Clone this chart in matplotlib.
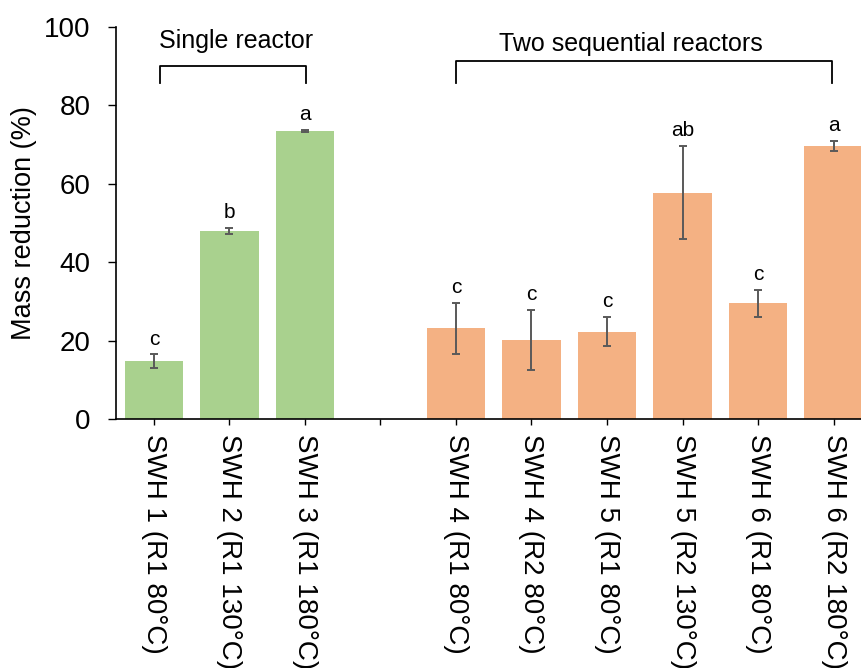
import numpy as np
import matplotlib
matplotlib.use("Agg")
import matplotlib.pyplot as plt

plt.rcParams['font.family'] = ['Liberation Sans', 'DejaVu Sans']

# data
labels = ['SWH 1 (R1 80°C)', 'SWH 2 (R1 130°C)', 'SWH 3 (R1 180°C)', '',
          'SWH 4 (R1 80°C)', 'SWH 4 (R2 80°C)', 'SWH 5 (R1 80°C)',
          'SWH 5 (R2 130°C)', 'SWH 6 (R1 80°C)', 'SWH 6 (R2 180°C)']
single_vals = [14.7, 48.0, 73.5]
single_err = [1.8, 0.7, 0.3]
single_letters = ['c', 'b', 'a']
seq_vals = [23.1, 20.2, 22.3, 57.7, 29.5, 69.7]
seq_err = [6.5, 7.7, 3.8, 11.9, 3.5, 1.3]
seq_letters = ['c', 'c', 'c', 'ab', 'c', 'a']

green = '#A9D18E'
orange = '#F4B183'
err_col = '#595959'

fig = plt.figure(figsize=(8.61, 6.68), dpi=100)
ax = fig.add_axes([116/861, (668-419)/668, 745/861, 392/668])

x_single = np.arange(3)
x_seq = np.arange(4, 10)
bw = 0.78
ekw = dict(ecolor=err_col, elinewidth=1.4, capsize=3, capthick=1.4)
ax.bar(x_single, single_vals, bw, color=green, yerr=single_err, error_kw=ekw)
ax.bar(x_seq, seq_vals, bw, color=orange, yerr=seq_err, error_kw=ekw)

# significance letters
for xs, vs, es, ls in [(x_single, single_vals, single_err, single_letters),
                       (x_seq, seq_vals, seq_err, seq_letters)]:
    for xi, v, e, l in zip(xs, vs, es, ls):
        ax.text(xi, v + e + 2.5, l, ha='center', va='baseline', fontsize=15)

# group brackets
def bracket(x0, x1, top, bottom, tx, ty, text):
    ax.plot([x0, x0, x1, x1], [bottom, top, top, bottom], color='black',
            lw=1.3, clip_on=False)
    ax.text(tx, ty, text, ha='center', va='baseline', fontsize=18)

bracket(0.08, 2.02, 90.1, 85.8, 1.09, 94.7, 'Single reactor')
bracket(4.0, 8.98, 91.4, 85.6, 6.32, 94.0, 'Two sequential reactors')

ax.set_xlim(-0.503, 9.364)
ax.set_ylim(0, 100)
ax.set_yticks(range(0, 101, 20))
ax.set_xticks(np.arange(10))
ax.set_xticklabels(labels, rotation=-90, fontsize=20)
ax.tick_params(axis='y', labelsize=20, length=5.5, width=1, pad=13)
ax.tick_params(axis='x', length=4, width=1, pad=7)
ax.set_ylabel('Mass reduction (%)', fontsize=19.5, labelpad=5)
for s in ['top', 'right']:
    ax.spines[s].set_visible(False)
for s in ['left', 'bottom']:
    ax.spines[s].set_linewidth(1.2)

fig.savefig('out.png', dpi=100)
